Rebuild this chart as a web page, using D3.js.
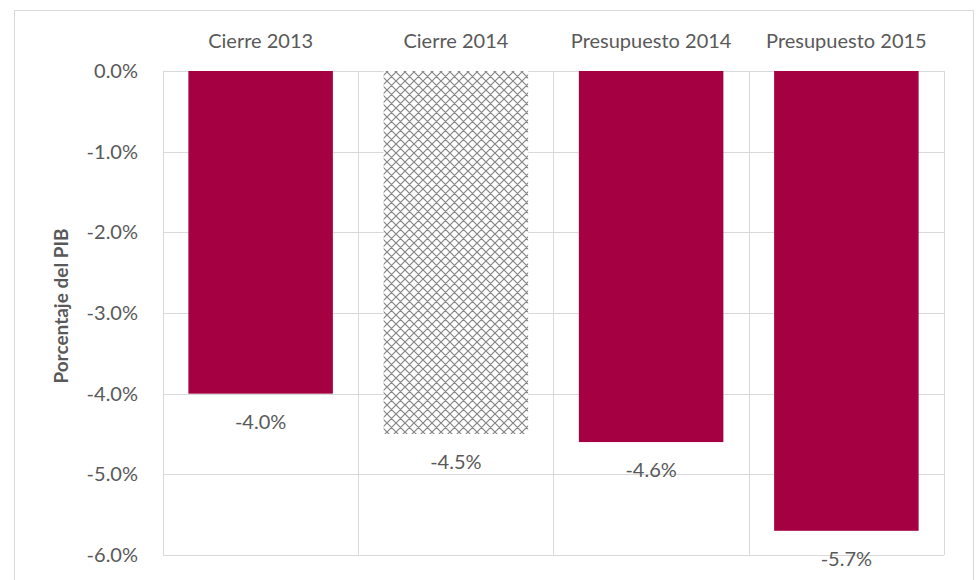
<!DOCTYPE html>
<html>
<head>
<meta charset="utf-8">
<script src="https://cdn.jsdelivr.net/npm/d3@7"></script>
<style>
  body { margin: 0; background: #fff; }
  svg text { font-family: Lato, "Open Sans", sans-serif; fill: #595959; }
</style>
</head>
<body>
<div id="chart"></div>
<script>
const categories = ['Cierre 2013', 'Cierre 2014', 'Presupuesto 2014', 'Presupuesto 2015'];
const values = [-4.0, -4.5, -4.6, -5.7];
const hatched = [false, true, false, false];
const yTicks = [0, -1, -2, -3, -4, -5, -6];

const W = 976, H = 580;
const margin = {top: 71, right: 32, bottom: 25, left: 163};
const barColor = '#a50042';

// hyphen instead of unicode minus, like the source
const pct = v => d3.format('.1f')(v).replace('\u2212', '-') + '%';

const svg = d3.select('#chart').append('svg')
  .attr('width', W)
  .attr('height', H);

// crosshatch for the one estimated bar
const ps = 9;
const pat = svg.append('defs').append('pattern')
  .attr('id', 'hatch')
  .attr('patternUnits', 'userSpaceOnUse')
  .attr('width', ps).attr('height', ps);
pat.append('rect').attr('width', ps).attr('height', ps).attr('fill', '#fff');
pat.append('path')
  .attr('d', `M0,0L${ps},${ps}M${-ps/2},${ps/2}L${ps/2},${ps*1.5}M${ps/2},${-ps/2}L${ps*1.5},${ps/2}` +
             `M0,${ps}L${ps},0M${-ps/2},${ps/2}L${ps/2},${-ps/2}M${ps/2},${ps*1.5}L${ps*1.5},${ps/2}`)
  .attr('stroke', '#858585').attr('stroke-width', 1.2).attr('fill', 'none');

// chart border
svg.append('rect')
  .attr('x', 14.5).attr('y', 10.5)
  .attr('width', 959).attr('height', 600)
  .attr('fill', 'none').attr('stroke', '#d9d9d9');

const x = d3.scaleBand().domain(categories)
  .range([margin.left, W - margin.right])
  .paddingInner(0.26).paddingOuter(0.13);
const y = d3.scaleLinear().domain([0, -6])
  .range([margin.top, H - margin.bottom]);

const step = x.step();
const bandLeft = d => x(d) - step * x.paddingInner() / 2;

// horizontal grid
svg.append('g')
  .selectAll('line').data(yTicks).join('line')
  .attr('x1', margin.left).attr('x2', W - margin.right)
  .attr('y1', d => Math.round(y(d)) + 0.5).attr('y2', d => Math.round(y(d)) + 0.5)
  .attr('stroke', '#d9d9d9');

// vertical grid at category boundaries
const bounds = categories.map(bandLeft).concat([W - margin.right]);
svg.append('g')
  .selectAll('line').data(bounds).join('line')
  .attr('x1', d => Math.round(d) + 0.5).attr('x2', d => Math.round(d) + 0.5)
  .attr('y1', margin.top).attr('y2', y(-6))
  .attr('stroke', '#d9d9d9');

// y axis labels
const yAxis = d3.axisLeft(y).tickValues(yTicks)
  .tickFormat(pct)
  .tickSize(0).tickPadding(25);
const ya = svg.append('g')
  .attr('transform', `translate(${margin.left},0)`)
  .call(yAxis);
ya.select('.domain').remove();
ya.selectAll('text').style('font-size', '20px').attr('fill', '#595959');

// category labels on top
const xAxis = d3.axisTop(x).tickSize(0).tickPadding(0);
const xa = svg.append('g')
  .attr('transform', `translate(0,48)`)
  .call(xAxis);
xa.select('.domain').remove();
xa.selectAll('text').style('font-size', '20px').attr('fill', '#595959');

// bars
svg.append('g')
  .selectAll('rect').data(categories).join('rect')
  .attr('x', d => x(d))
  .attr('y', y(0))
  .attr('width', x.bandwidth())
  .attr('height', (d, i) => y(values[i]) - y(0))
  .attr('fill', (d, i) => hatched[i] ? 'url(#hatch)' : barColor);

// value labels
svg.append('g')
  .selectAll('text').data(categories).join('text')
  .attr('x', d => x(d) + x.bandwidth() / 2)
  .attr('y', (d, i) => y(values[i]) + 35)
  .attr('text-anchor', 'middle')
  .style('font-size', '20px')
  .text((d, i) => pct(values[i]));

// y title
svg.append('text')
  .attr('transform', `translate(68,306) rotate(-90)`)
  .attr('text-anchor', 'middle')
  .style('font-size', '19px')
  .style('font-weight', 'bold')
  .text('Porcentaje del PIB');
</script>
</body>
</html>
